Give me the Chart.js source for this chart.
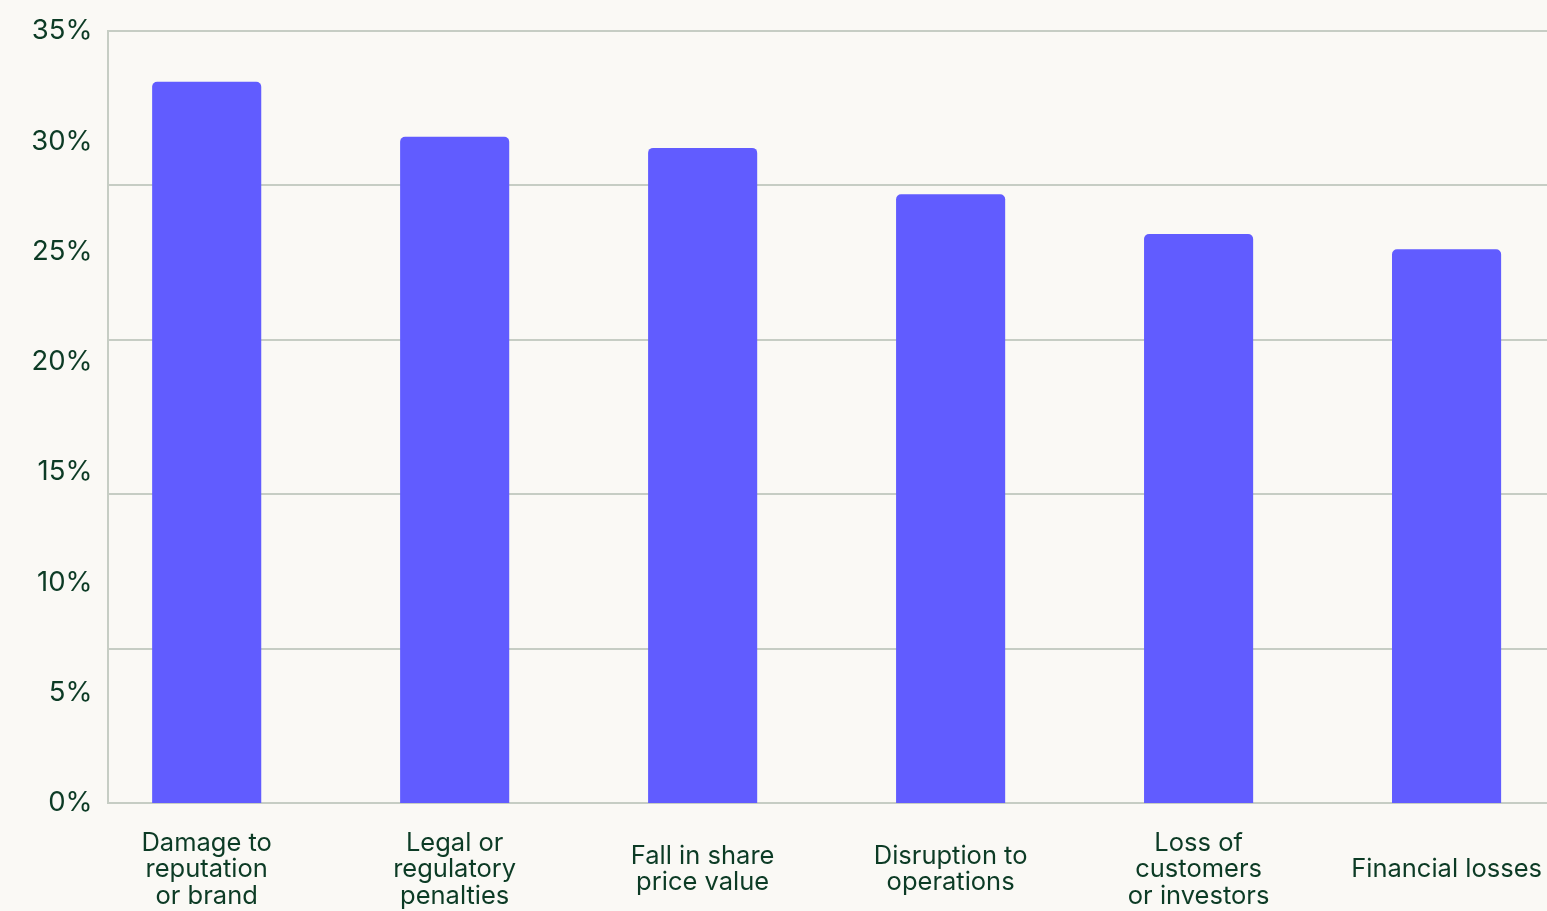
<!DOCTYPE html>
<html>
<head>
<meta charset="utf-8">
<script src="https://cdn.jsdelivr.net/npm/chart.js@4/dist/chart.umd.min.js"></script>
<style>
  html, body { margin: 0; padding: 0; background: #faf9f5; overflow: hidden; }
  #wrap { width: 1547px; height: 911px; position: relative; }
</style>
</head>
<body>
<div id="wrap"><canvas id="chart"></canvas></div>
<script>
// Consequences of a breach, share of respondents (%)
const categories = [
  ['Damage to', 'reputation', 'or brand'],
  ['Legal or', 'regulatory', 'penalties'],
  ['Fall in share', 'price value'],
  ['Disruption to', 'operations'],
  ['Loss of', 'customers', 'or investors'],
  ['Financial losses']
];
const shares = [32.7, 30.2, 29.7, 27.6, 25.8, 25.1];
const yTickStep = 5;
const gridStep = 7;
const yMax = 35;

const ink = '#0c3b25';
const rule = '#c6cdc4';
const barColor = '#615cff';

const points = shares.map((v, i) => ({ x: i, y: v }));

new Chart(document.getElementById('chart'), {
  type: 'bar',
  data: {
    datasets: [{
      data: points,
      backgroundColor: barColor,
      borderRadius: 5,
      borderSkipped: 'start',
      categoryPercentage: 1,
      barPercentage: 0.44
    }]
  },
  options: {
    responsive: true,
    maintainAspectRatio: false,
    animation: false,
    layout: { padding: { top: 31, right: 0, bottom: 0, left: 0 } },
    plugins: { legend: { display: false }, tooltip: { enabled: false } },
    scales: {
      x: {
        type: 'linear',
        offset: false,
        min: -0.4,
        max: 5.405,
        afterBuildTicks: s => { s.ticks = categories.map((_, i) => ({ value: i })); },
        afterFit: s => { s.height = 108; s.paddingLeft = 0; s.paddingRight = 0; },
        grid: { display: false, drawTicks: false },
        border: { display: true, color: rule, width: 2 },
        ticks: {
          autoSkip: false,
          maxRotation: 0,
          minRotation: 0,
          crossAlign: 'center',
          padding: 40,
          color: ink,
          font: { family: 'Inter', size: 25.5, lineHeight: 1.04 },
          callback: v => categories[v]
        }
      },
      y: {
        min: 0,
        max: yMax,
        afterFit: s => { s.width = 107.5; s.paddingTop = 0; s.paddingBottom = 0; },
        grid: { display: false, drawTicks: false },
        border: { display: true, color: rule, width: 2 },
        ticks: {
          stepSize: yTickStep,
          padding: 15,
          color: ink,
          font: { family: 'Inter', size: 27.5 },
          callback: v => v + '%'
        }
      },
      yGrid: {
        position: 'right',
        min: 0,
        max: yMax,
        afterFit: s => { s.width = 0; s.paddingTop = 0; s.paddingBottom = 0; },
        border: { display: false },
        grid: { color: rule, lineWidth: 2, drawTicks: false },
        ticks: { display: false, stepSize: gridStep }
      }
    }
  }
});
</script>
</body>
</html>
